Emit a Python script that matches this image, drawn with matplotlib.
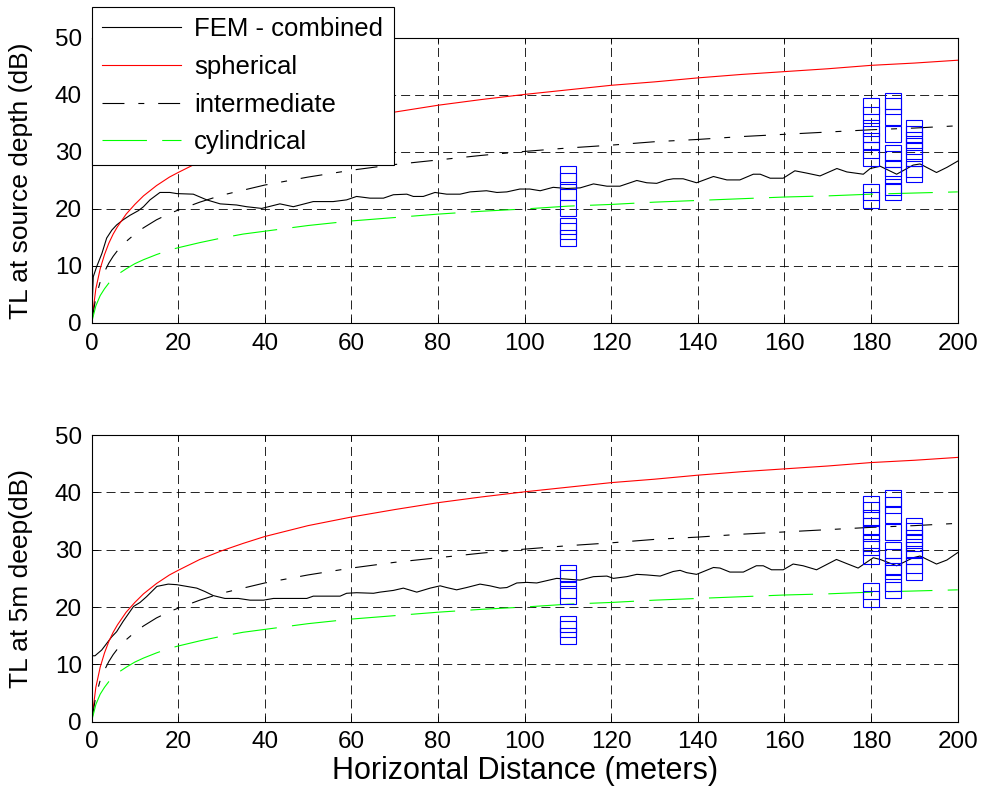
import matplotlib
matplotlib.use('Agg')
import matplotlib.pyplot as plt

plt.rcParams['font.family'] = ['Liberation Sans', 'DejaVu Sans']
plt.rcParams['lines.scale_dashes'] = False

# reference spreading laws (same curves in both panels)
dist = [0, 1, 2, 3, 4, 5, 6, 8, 10, 12, 15, 18, 20, 25, 30, 35, 40, 50, 60, 70,
        80, 90, 100, 110, 120, 130, 140, 150, 160, 170, 180, 190, 200]
spherical = [0, 6.0, 9.5, 12.0, 14.0, 15.6, 16.9, 19.1, 20.8, 22.3, 24.1, 25.6, 26.4,
             28.3, 29.8, 31.1, 32.3, 34.2, 35.7, 37.0, 38.2, 39.2, 40.1, 40.9, 41.7,
             42.3, 43.0, 43.6, 44.1, 44.6, 45.2, 45.6, 46.1]
intermediate = [0, 4.5, 7.2, 9.0, 10.5, 11.7, 12.7, 14.3, 15.6, 16.7, 18.1, 19.2, 19.8,
                21.2, 22.4, 23.3, 24.2, 25.6, 26.8, 27.8, 28.6, 29.4, 30.1, 30.7, 31.2,
                31.8, 32.2, 32.7, 33.1, 33.5, 33.9, 34.2, 34.6]
cylindrical = [0, 3.0, 4.8, 6.0, 7.0, 7.8, 8.5, 9.5, 10.4, 11.1, 12.0, 12.8, 13.2,
               14.1, 14.9, 15.6, 16.1, 17.1, 17.9, 18.5, 19.1, 19.6, 20.0, 20.5, 20.8,
               21.2, 21.5, 21.8, 22.1, 22.3, 22.6, 22.8, 23.0]

# FEM - combined at source depth
fem_src_x = [0, 0.4, 1.2, 2.4, 3.5, 4.7, 5.8, 7.3, 8.9, 10.8, 12.0, 13.5, 15.8, 18.1,
             19.7, 23.5, 26.6, 29.7, 33.5, 35.8, 39.3, 43.5, 46.6, 51.2, 55.8, 58.9,
             61.2, 64.3, 67.4, 69.7, 72.8, 74.3, 76.6, 79.3, 82.0, 85.1, 87.4, 91.2,
             93.6, 95.9, 98.9, 101.2, 103.6, 106.6, 109.7, 112.8, 115.9, 119.0, 122.0,
             125.9, 128.2, 130.5, 132.8, 134.3, 136.6, 139.7, 143.6, 146.7, 149.7,
             152.8, 154.4, 156.7, 159.7, 162.4, 165.1, 168.2, 172.1, 174.4, 178.2,
             179.8, 182.1, 185.9, 189.7, 191.3, 195.1, 197.5, 200]
fem_src_y = [0, 8.1, 9.9, 12.2, 14.9, 16.3, 17.2, 18.1, 18.9, 19.7, 20.4, 21.6, 22.9,
             22.9, 22.7, 22.6, 21.6, 20.9, 20.7, 20.4, 20.1, 20.9, 20.4, 21.3, 21.3,
             21.6, 22.2, 21.9, 21.9, 22.5, 22.6, 22.2, 22.2, 22.9, 22.6, 22.6, 23.0,
             23.2, 22.9, 23.0, 23.5, 23.5, 23.2, 23.8, 23.6, 23.7, 24.4, 24.0, 24.0,
             25.0, 24.6, 24.5, 25.1, 25.3, 25.3, 24.6, 25.7, 25.1, 25.1, 26.1, 26.1,
             25.4, 25.4, 26.7, 26.3, 25.8, 27.1, 26.5, 26.1, 27.1, 27.5, 26.1, 27.7,
             27.9, 26.4, 27.3, 28.4]

# FEM - combined at 5 m depth
fem_5m_x = [0, 0.8, 2.35, 4.66, 5.8, 7.3, 9.7, 11.2, 12.7, 15.1, 17.7, 19.7, 22.0,
            24.3, 26.2, 28.1, 30.8, 33.9, 36.6, 39.7, 42.0, 46.6, 49.7, 51.2, 57.4,
            58.9, 61.2, 65.1, 66.6, 69.7, 72.0, 75.1, 78.2, 80.5, 82.0, 84.3, 86.6,
            89.7, 92.0, 94.3, 95.9, 98.2, 100.5, 102.8, 105.1, 107.4, 112.8, 115.9,
            119.0, 120.5, 123.6, 125.9, 128.2, 131.3, 134.3, 135.9, 137.4, 139.7,
            143.6, 145.1, 147.4, 150.5, 153.5, 155.1, 157.0, 159.7, 162.0, 164.3,
            167.4, 172.0, 174.3, 177.0, 180.5, 182.1, 185.9, 189.7, 191.3, 195.1,
            197.5, 200]
fem_5m_y = [11.5, 11.5, 12.5, 14.8, 15.7, 17.5, 20.1, 20.8, 21.8, 23.6, 24.0, 23.9,
            23.6, 23.3, 22.7, 22.0, 21.5, 21.5, 21.2, 21.2, 21.5, 21.5, 21.5, 21.9,
            21.9, 22.4, 22.5, 22.4, 22.6, 22.9, 23.3, 22.6, 23.3, 23.7, 23.4, 23.0,
            23.4, 24.0, 23.7, 23.3, 23.4, 24.2, 24.3, 24.2, 24.6, 25.0, 24.7, 25.3,
            25.4, 25.0, 25.3, 25.7, 25.6, 25.4, 26.2, 26.4, 26.0, 25.7, 26.9, 26.8,
            26.1, 26.1, 27.2, 27.2, 26.5, 26.5, 27.5, 27.2, 26.5, 28.3, 27.6, 26.8,
            28.6, 28.3, 27.2, 28.6, 28.9, 27.5, 28.2, 29.5]

# measured TL (blue squares) at the recording ranges
meas_ranges = [110, 180, 185, 190]
meas_src = [[26.1, 24.9, 22.9, 20.1, 17.0, 16.2, 14.9],
            [38.0, 36.5, 34.2, 33.2, 32.0, 30.4, 29.0, 22.9, 21.5],
            [39.0, 38.0, 36.1, 33.1, 29.9, 28.7, 27.2, 25.9, 23.9, 23.0],
            [34.2, 33.1, 32.1, 31.1, 30.1, 28.9, 27.1, 26.1]]
meas_5m = [[26.0, 25.0, 22.9, 21.9, 17.0, 16.1, 14.9],
           [37.9, 36.9, 35.6, 34.1, 32.9, 31.2, 30.5, 28.9, 22.8, 21.4],
           [39.0, 37.8, 36.0, 33.1, 30.0, 28.8, 27.1, 26.3, 24.2, 22.9],
           [34.1, 33.2, 32.0, 31.2, 30.0, 28.9, 27.3, 26.1]]

fig = plt.figure(figsize=(9.84, 7.93), dpi=100)
ax1 = fig.add_axes([0.093, 0.5927, 0.8803, 0.3594])
ax2 = fig.add_axes([0.093, 0.0899, 0.8803, 0.3615])


def draw_panel(ax, fem_x, fem_y, meas, ylabel):
    ax.plot(fem_x, fem_y, color='k', lw=0.8, label='FEM - combined')
    ax.plot(dist, spherical, color='#ff0000', lw=0.8, label='spherical')
    ax.plot(dist, intermediate, color='k', lw=0.8, dashes=[15.8, 10, 4.3, 10],
            label='intermediate')
    ax.plot(dist, cylindrical, color='#00ff00', lw=0.8, dashes=[32, 11],
            label='cylindrical')
    for r, vals in zip(meas_ranges, meas):
        ax.plot([r] * len(vals), vals, ls='none', marker='s', ms=11.7,
                mfc='none', mec='#0000ff', mew=0.8)
    ax.set_xlim(0, 200)
    ax.set_ylim(0, 50)
    ax.set_xticks(range(0, 201, 20))
    ax.set_yticks(range(0, 51, 10))
    ax.grid(True, color='k', lw=0.6, linestyle=(0, (6.5, 3.6)))
    ax.tick_params(direction='in', top=True, right=True, length=4, width=0.6,
                   labelsize=17.5, pad=7)
    for sp in ax.spines.values():
        sp.set_linewidth(0.8)
    ax.set_ylabel(ylabel, fontsize=19)
    ax.yaxis.set_label_coords(-0.0675, 0.5)


draw_panel(ax1, fem_src_x, fem_src_y, meas_src, 'TL at source depth (dB)')
draw_panel(ax2, fem_5m_x, fem_5m_y, meas_5m, 'TL at 5m deep(dB)')

leg = ax1.legend(loc='upper left', bbox_to_anchor=(0.0, 1.11), fancybox=False,
                 edgecolor='k', framealpha=1, fontsize=18.5, handlelength=3.07,
                 handletextpad=0.5, labelspacing=0.53, borderpad=0.42,
                 borderaxespad=0)
leg.get_frame().set_linewidth(0.8)

ax2.set_xlabel('Horizontal Distance (meters)', fontsize=22)
ax2.xaxis.set_label_coords(0.5, -0.12)

fig.savefig('out.png', dpi=100)
